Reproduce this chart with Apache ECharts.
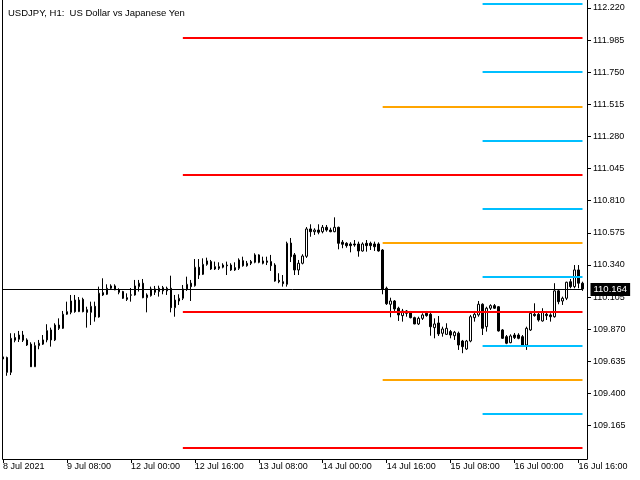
<!DOCTYPE html>
<html><head><meta charset="utf-8">
<script src="https://cdn.jsdelivr.net/npm/echarts@6.0.0/dist/echarts.min.js"></script>
<style>html,body{margin:0;padding:0;background:#fff}#c{width:640px;height:480px}</style>
</head><body><div id="c"></div>
<script>
const titleText = 'USDJPY, H1:  US Dollar vs Japanese Yen';
const sessions = [['8 Jul',16,23],['9 Jul',0,23],['12 Jul',0,23],['13 Jul',0,23],['14 Jul',0,23],['15 Jul',0,23],['16 Jul',0,17]];
const xTickLabels = ['8 Jul 2021','9 Jul 08:00','12 Jul 00:00','12 Jul 16:00','13 Jul 08:00','14 Jul 00:00','14 Jul 16:00','15 Jul 08:00','16 Jul 00:00','16 Jul 16:00'];
const yTickValues = [112.220,111.985,111.750,111.515,111.280,111.045,110.810,110.575,110.340,110.105,109.870,109.635,109.400,109.165];

const open = [109.667,109.662,109.554,109.808,109.796,109.827,109.791,109.760,109.595,109.749,
109.760,109.791,109.864,109.791,109.900,109.876,109.979,109.993,110.083,109.998,
110.088,110.012,109.993,110.037,109.959,110.137,110.125,110.169,110.186,110.157,
110.145,110.100,110.118,110.120,110.181,110.206,110.100,110.115,110.164,110.145,
110.173,110.150,110.169,110.027,110.076,110.096,110.164,110.206,110.188,110.323,
110.271,110.344,110.364,110.327,110.327,110.323,110.339,110.339,110.320,110.315,
110.371,110.334,110.364,110.359,110.413,110.369,110.369,110.364,110.339,110.227,
110.217,110.198,110.500,110.413,110.303,110.352,110.403,110.603,110.583,110.595,
110.583,110.615,110.595,110.583,110.615,110.506,110.498,110.493,110.493,110.493,
110.442,110.498,110.498,110.493,110.493,110.449,110.169,110.052,110.076,110.023,
109.969,110.003,109.998,109.954,109.908,109.949,109.986,109.979,109.881,109.915,
109.840,109.832,109.852,109.822,109.840,109.783,109.725,109.783,109.954,109.974,
110.052,109.888,110.023,110.042,110.034,109.864,109.815,109.771,109.827,109.827,
109.815,109.754,109.864,109.979,109.979,109.930,109.979,109.974,109.961,110.150,
110.076,110.096,110.217,110.181,110.303,110.206];
const high = [109.681,109.669,109.840,109.840,109.857,109.857,109.803,109.774,109.774,109.791,
109.827,109.906,109.881,109.913,109.949,110.003,110.071,110.120,110.120,110.105,
110.100,110.034,110.071,110.071,110.181,110.242,110.198,110.198,110.198,110.169,
110.150,110.132,110.171,110.230,110.230,110.237,110.132,110.181,110.186,110.188,
110.186,110.181,110.261,110.120,110.125,110.193,110.254,110.230,110.383,110.383,
110.388,110.393,110.376,110.364,110.359,110.352,110.364,110.352,110.359,110.388,
110.400,110.369,110.376,110.425,110.418,110.400,110.400,110.413,110.352,110.279,
110.266,110.510,110.537,110.427,110.376,110.418,110.617,110.637,110.608,110.637,
110.632,110.632,110.612,110.688,110.620,110.522,110.506,110.506,110.522,110.510,
110.505,110.522,110.510,110.510,110.505,110.456,110.181,110.100,110.083,110.034,
110.018,110.010,110.003,109.961,109.961,109.986,110.003,110.003,109.949,109.966,
109.888,109.913,109.864,109.857,109.852,109.791,109.791,109.974,110.003,110.076,
110.059,110.034,110.052,110.054,110.039,109.871,109.827,109.832,109.842,109.840,
109.827,109.888,110.003,110.059,109.993,110.023,110.003,109.986,110.206,110.157,
110.108,110.217,110.237,110.339,110.339,110.217];
const low = [109.629,109.529,109.534,109.774,109.776,109.776,109.747,109.593,109.593,109.723,
109.754,109.774,109.742,109.783,109.864,109.871,109.974,109.979,109.990,109.995,
109.993,109.881,109.900,109.925,109.954,110.113,110.120,110.157,110.155,110.125,
110.091,110.076,110.071,110.115,110.145,110.096,109.993,110.108,110.120,110.108,
110.125,110.120,109.993,109.961,110.047,110.083,110.150,110.076,110.181,110.237,
110.266,110.334,110.303,110.303,110.303,110.315,110.266,110.296,110.296,110.303,
110.327,110.327,110.339,110.352,110.352,110.344,110.339,110.296,110.217,110.206,
110.181,110.181,110.361,110.266,110.266,110.344,110.391,110.546,110.559,110.564,
110.571,110.583,110.579,110.579,110.454,110.462,110.466,110.432,110.473,110.400,
110.437,110.437,110.449,110.442,110.437,110.125,110.047,109.957,110.003,109.930,
109.925,109.961,109.949,109.906,109.900,109.937,109.961,109.822,109.803,109.820,
109.815,109.827,109.803,109.791,109.718,109.694,109.718,109.774,109.925,109.961,
109.827,109.852,110.010,110.018,109.852,109.798,109.760,109.767,109.798,109.796,
109.742,109.718,109.857,109.961,109.925,109.925,109.937,109.925,109.954,110.052,
110.047,110.083,110.169,110.169,110.169,110.150];
const close = [109.652,109.554,109.803,109.789,109.827,109.789,109.754,109.595,109.749,109.767,
109.791,109.859,109.791,109.900,109.876,109.979,109.998,110.076,109.998,110.083,
109.998,109.993,110.037,109.959,110.133,110.120,110.169,110.186,110.157,110.140,
110.096,110.088,110.121,110.186,110.206,110.100,110.120,110.164,110.140,110.169,
110.150,110.169,110.027,110.083,110.096,110.164,110.198,110.181,110.323,110.266,
110.344,110.369,110.310,110.310,110.315,110.339,110.334,110.303,110.303,110.376,
110.334,110.352,110.352,110.413,110.359,110.352,110.359,110.334,110.222,110.217,
110.203,110.498,110.400,110.303,110.352,110.405,110.603,110.583,110.595,110.579,
110.615,110.595,110.583,110.615,110.498,110.491,110.481,110.481,110.486,110.442,
110.493,110.481,110.481,110.473,110.442,110.164,110.056,110.076,110.018,109.974,
110.003,109.986,109.954,109.908,109.949,109.974,109.969,109.888,109.908,109.835,
109.871,109.876,109.827,109.847,109.754,109.742,109.783,109.961,109.979,110.052,
109.876,110.023,110.042,110.023,109.857,109.803,109.767,109.820,109.808,109.803,
109.749,109.876,109.986,109.969,109.937,109.993,109.969,109.961,110.150,110.071,
110.096,110.213,110.181,110.303,110.206,110.164];

const lastPrice = 110.164;
const redLevels = [112.00, 111.00, 110.00, 109.00];
const orangeLevels = [111.50, 110.50, 109.50];
const blueLevels = [112.25, 111.75, 111.25, 110.75, 110.25, 109.75, 109.25];
const redStartBar = 45, orangeStartBar = 95, blueStartBar = 120;
const yMin = 108.920, yMax = 112.278;

// build categories
const categories = [];
sessions.forEach(([d, h0, h1]) => {
  for (let h = h0; h <= h1; h++) categories.push(d + ' ' + String(h).padStart(2, '0') + ':00');
});
const lastBar = categories.length - 1;
const ohlc = open.map((o, i) => [o, close[i], low[i], high[i]]);

function levelLines(levels, start, color) {
  return levels.map(v => [
    {coord: [categories[start], v], lineStyle: {color: color, width: 2, type: 'solid'}},
    {coord: [categories[lastBar], v]}
  ]);
}

const FONT = 'Liberation Sans, Arial, sans-serif';
const chart = echarts.init(document.getElementById('c'), null, {renderer: 'canvas'});
chart.setOption({
  animation: false,
  backgroundColor: '#ffffff',
  title: {
    text: titleText, left: 3, top: 3,
    textStyle: {fontFamily: FONT, fontSize: 9.5, fontWeight: 'normal', color: '#000'}
  },
  grid: {left: 2.5, top: 0, width: 580, height: 459},
  xAxis: {
    type: 'category', data: categories, boundaryGap: false,
    axisLine: {show: false},
    axisTick: {show: true, interval: 15, length: 4, lineStyle: {color: '#000'}},
    axisLabel: {
      interval: 15, align: 'left', margin: 3,
      fontFamily: FONT, fontSize: 9, color: '#000',
      formatter: (v, idx) => xTickLabels[Math.round(idx / 16)] || ''
    },
    splitLine: {show: false}
  },
  yAxis: {
    type: 'value', position: 'right', min: yMin, max: yMax, offset: 4.5, scale: true,
    axisLine: {show: true, lineStyle: {color: '#000', width: 1}},
    axisTick: {show: true, customValues: yTickValues, length: 4, lineStyle: {color: '#000'}},
    axisLabel: {
      customValues: yTickValues, margin: 6, fontFamily: FONT, fontSize: 9, color: '#000',
      formatter: v => v.toFixed(3)
    },
    splitLine: {show: false}
  },
  graphic: [
    {type: 'line', shape: {x1: 2.5, y1: 0, x2: 2.5, y2: 459.5}, style: {stroke: '#000', lineWidth: 1}, z: 100},
    {type: 'line', shape: {x1: 2.5, y1: 459.5, x2: 587.5, y2: 459.5}, style: {stroke: '#000', lineWidth: 1}, z: 100}
  ],
  series: [{
    type: 'candlestick',
    data: ohlc,
    barWidth: 2,
    itemStyle: {color: '#ffffff', color0: '#000000', borderColor: '#000000', borderColor0: '#000000', borderColorDoji: '#000000', borderWidth: 1},
    markLine: {
      silent: true, symbol: ['none', 'none'], animation: false,
      label: {show: false},
      data: [
        ...levelLines(redLevels, redStartBar, '#ff0000'),
        ...levelLines(orangeLevels, orangeStartBar, '#ffa500'),
        ...levelLines(blueLevels, blueStartBar, '#00bfff'),
        {
          yAxis: lastPrice,
          lineStyle: {color: '#000', width: 1, type: 'solid'},
          label: {
            show: true, position: 'end', distance: 8,
            formatter: () => lastPrice.toFixed(3),
            color: '#fff', backgroundColor: '#000', fontFamily: FONT, fontSize: 9.5,
            padding: [2, 3, 1, 3]
          }
        }
      ]
    }
  }]
});
</script>
</body></html>
